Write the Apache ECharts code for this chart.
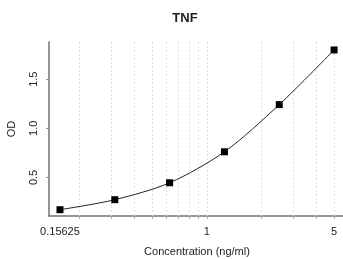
<!DOCTYPE html>
<html>
<head>
<meta charset="utf-8">
<script src="https://cdn.jsdelivr.net/npm/echarts@6/dist/echarts.min.js"></script>
<style>
  html, body { margin: 0; padding: 0; background: #fff; }
  #chart { width: 343px; height: 259px; }
</style>
</head>
<body>
<div id="chart"></div>
<script>
// standard curve points
const concentrations = [0.15625, 0.3125, 0.625, 1.25, 2.5, 5];
const odValues = [0.172, 0.274, 0.446, 0.761, 1.241, 1.797];

const xLabelTicks = [0.15625, 1, 5];
const xMinorTicks = [0.2, 0.3, 0.4, 0.5, 0.6, 0.7, 0.8, 0.9, 1, 2, 3, 4, 5];
const yTicks = [0.5, 1.0, 1.5];

const chart = echarts.init(document.getElementById('chart'), null, { renderer: 'canvas' });

const axisGrey = '#707070';
const pts = concentrations.map((c, i) => [c, odValues[i]]);

chart.setOption({
  animation: false,
  title: {
    text: 'TNF',
    left: 180, top: 7,
    textAlign: 'center',
    textStyle: { fontFamily: 'Liberation Sans', fontSize: 13, fontWeight: 'bold', color: '#222' }
  },
  grid: { left: 49, right: -2, top: 42, bottom: 43, containLabel: false, outerBoundsMode: 'none' },
  xAxis: {
    type: 'log',
    min: 0.136, max: 5.74,
    name: 'Concentration (ng/ml)',
    nameLocation: 'middle',
    nameGap: 30,
    nameTextStyle: { fontFamily: 'Liberation Sans', fontSize: 11, color: '#222' },
    axisLine: { lineStyle: { color: axisGrey, width: 1.5 } },
    axisTick: { customValues: xMinorTicks, length: 3, lineStyle: { color: '#aaa' } },
    axisLabel: {
      customValues: xLabelTicks,
      margin: 10,
      fontFamily: 'Liberation Sans', fontSize: 11, color: '#222',
      formatter: v => {
        const hit = xLabelTicks.find(t => Math.abs(t - v) / t < 1e-6);
        return hit !== undefined ? String(hit) : '';
      }
    },
    splitLine: { show: false }
  },
  yAxis: {
    type: 'value',
    min: 0.108, max: 1.878,
    name: 'OD',
    nameLocation: 'middle',
    nameGap: 32,
    nameRotate: 90,
    nameTextStyle: { fontFamily: 'Liberation Sans', fontSize: 11, color: '#222' },
    axisLine: { show: true, lineStyle: { color: axisGrey, width: 1.5 } },
    axisTick: { show: true, customValues: yTicks, length: 3, lineStyle: { color: '#999' } },
    axisLabel: {
      customValues: yTicks,
      rotate: 90,
      margin: 10,
      fontFamily: 'Liberation Sans', fontSize: 11, color: '#222',
      formatter: v => v.toFixed(1)
    },
    splitLine: { show: false }
  },
  series: [
    {
      // top border of the plot box
      type: 'line',
      data: [],
      silent: true,
      markLine: {
        symbol: 'none',
        silent: true,
        label: { show: false },
        lineStyle: { color: axisGrey, width: 1.5, type: 'solid' },
        data: [{ yAxis: 1.878 }]
      }
    },
    {
      // dotted vertical grid
      type: 'line',
      data: [],
      silent: true,
      markLine: {
        symbol: 'none',
        silent: true,
        label: { show: false },
        lineStyle: { color: '#e2e2e2', width: 1, type: [2, 2] },
        data: xMinorTicks.map(v => ({ xAxis: v }))
      }
    },
    {
      type: 'line',
      data: pts,
      smooth: 0.3,
      symbol: 'rect',
      symbolSize: 7,
      itemStyle: { color: '#000' },
      lineStyle: { color: '#222', width: 1 },
      z: 5
    }
  ]
});
</script>
</body>
</html>
